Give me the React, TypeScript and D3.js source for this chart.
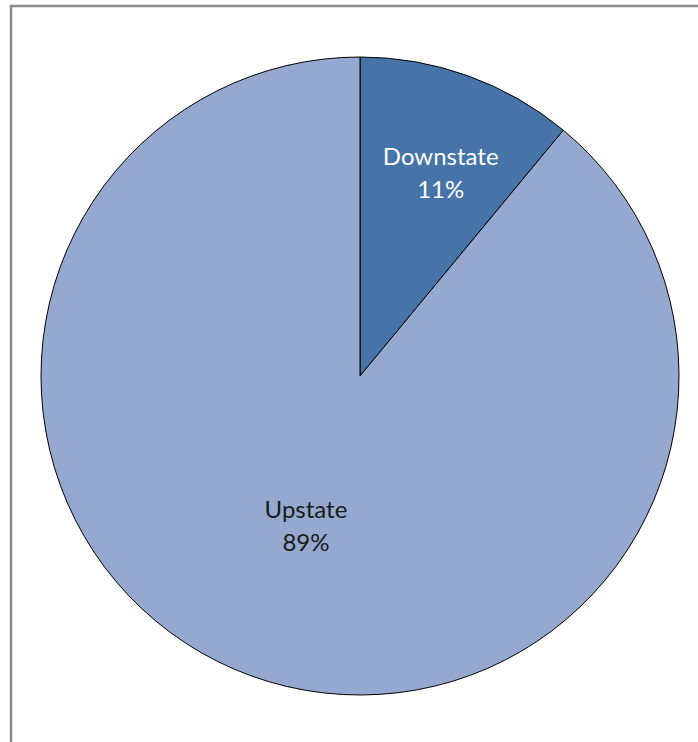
import React from "react";
import * as d3 from "d3";

const categories = ["Downstate", "Upstate"];
const values = [11, 89];
const labels = ["11%", "89%"];
const colors = ["#4673A8", "#95A9D0"];
const textColors = ["#FFFFFF", "#1A1A1A"];
const labelRadiusFactor = [0.71, 0.5];
const labelNudge: [number, number][] = [
  [4, 10],
  [0, 0],
];

export default function App() {
  const W = 698;
  const H = 742;
  const cx = 360;
  const cy = 376;
  const R = 319;

  const pie = d3
    .pie<number>()
    .sort(null)
    .value((d) => d)
    .startAngle(0)
    .endAngle(2 * Math.PI);
  const arcs = pie(values);
  const arc = d3.arc<d3.PieArcDatum<number>>().innerRadius(0).outerRadius(R);

  return (
    <svg
      width={W}
      height={H}
      style={{ position: "absolute", left: 0, top: 0, background: "#fff" }}
      fontFamily="Lato, 'Open Sans', sans-serif"
    >
      <rect x={11} y={6} width={720} height={780} fill="#fff" stroke="#8C8C8C" strokeWidth={2.5} />
      <g transform={`translate(${cx},${cy})`}>
        {arcs.map((a, i) => (
          <path key={categories[i]} d={arc(a) || ""} fill={colors[i]} stroke="#000" strokeWidth={1} />
        ))}
        {arcs.map((a, i) => {
          const lr = R * labelRadiusFactor[i];
          const la = d3.arc<d3.PieArcDatum<number>>().innerRadius(lr).outerRadius(lr);
          const [x0, y0] = la.centroid(a);
          const x = x0 + labelNudge[i][0];
          const y = y0 + labelNudge[i][1];
          return (
            <text key={"l" + i} x={x} y={y} textAnchor="middle" fill={textColors[i]} fontSize={24}>
              <tspan x={x} dy={-8}>{categories[i]}</tspan>
              <tspan x={x} dy={33}>{labels[i]}</tspan>
            </text>
          );
        })}
      </g>
    </svg>
  );
}
